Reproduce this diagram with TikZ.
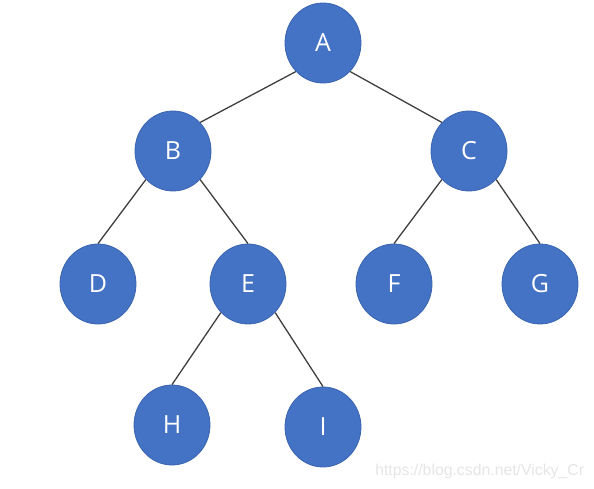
\documentclass[tikz,border=0pt]{standalone}
\usepackage{fontspec}
\setmainfont{Open Sans}
\newfontfamily\markfont{Liberation Sans}
\usetikzlibrary{positioning,shapes.geometric}
\definecolor{nodeblue}{HTML}{4472C4}
\definecolor{rimblue}{HTML}{3A64B0}
\definecolor{linegray}{HTML}{3F3F3F}

\begin{document}
\begin{tikzpicture}[x=1pt,y=1pt,on grid,semithick]
  \tikzstyle{vertex}=[ellipse,fill=nodeblue,draw=rimblue,line width=0.8pt,text=white,
                      minimum width=76pt,minimum height=80pt,inner sep=0pt,
                      font=\fontsize{25}{30}\selectfont]
  \tikzstyle{every edge}=[draw=linegray,line width=1.3pt]
  \useasboundingbox (0,0) rectangle (594,-489);

  \node[vertex] (A) at (323,-43)                      {A};
  \node[vertex] (B) [below left=108pt and 150pt of A]  {B};
  \node[vertex] (C) [below right=108pt and 146pt of A] {C};
  \node[vertex] (D) [below left=133pt and 75pt of B]   {D};
  \node[vertex] (E) [below right=133pt and 75pt of B]  {E};
  \node[vertex] (F) [below left=133pt and 75pt of C]   {F};
  \node[vertex] (G) [below right=133pt and 71pt of C]  {G};
  \node[vertex] (H) [below left=141pt and 76pt of E]   {H};
  \node[vertex] (I) [below right=143pt and 75pt of E]  {I};

  \path (A.south west) edge (B.north east)
        (A.south east) edge (C.north west)
        (B.south west) edge (D.north)
        (B.south east) edge (E.north)
        (C.south west) edge (F.north)
        (C.south east) edge (G.north)
        (E.south west) edge (H.north)
        (E.south east) edge (I.north);

  % csdn mark
  \node[anchor=base west,inner sep=0pt,text=black!10,font=\markfont\fontsize{15.8}{18}\selectfont]
       (mark) at (375,-475) {https://blog.csdn.net/Vicky\_Cr};
\end{tikzpicture}
\end{document}
